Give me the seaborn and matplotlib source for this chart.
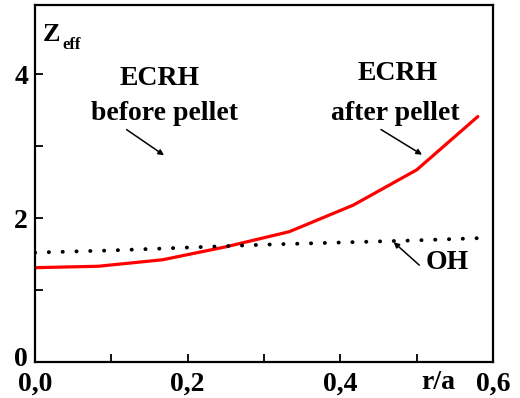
import matplotlib
matplotlib.use("Agg")
import matplotlib.pyplot as plt
import matplotlib.transforms as mtransforms
import seaborn as sns
import pandas as pd
from matplotlib.ticker import FixedLocator, FuncFormatter

# Zeff radial profiles
r_ecrh = [0.0, 0.083, 0.167, 0.25, 0.333, 0.417, 0.5, 0.58]
z_ecrh_after = [1.31, 1.33, 1.42, 1.60, 1.81, 2.18, 2.67, 3.41]

r_oh = [0.0, 0.1, 0.2, 0.3, 0.4, 0.5, 0.58]
z_oh = [1.52, 1.55, 1.59, 1.63, 1.66, 1.69, 1.72]

x_major = [0.0, 0.2, 0.4, 0.6]
x_minor = [0.1, 0.3, 0.5]
y_major = [0, 2, 4]
y_minor = [1, 3]

sns.set_theme(style="white")
plt.rcParams["font.family"] = ["Liberation Serif", "DejaVu Serif"]
plt.rcParams["font.weight"] = "bold"
plt.rcParams["text.color"] = "black"
plt.rcParams["xtick.color"] = "black"
plt.rcParams["ytick.color"] = "black"

fig = plt.figure(figsize=(5.2, 3.98), dpi=100)
ax = fig.add_axes([0.0673, 0.0905, 0.881, 0.897])

df_ecrh = pd.DataFrame({"r": r_ecrh, "z": z_ecrh_after})
df_oh = pd.DataFrame({"r": r_oh, "z": z_oh})

sns.lineplot(data=df_ecrh, x="r", y="z", ax=ax, color="#ff0000", lw=2.3)
sns.lineplot(data=df_oh, x="r", y="z", ax=ax, color="black", lw=2.8,
             linestyle=(0, (0.05, 3.5)), dash_capstyle="round")

ax.set_xlim(0, 0.6)
ax.set_ylim(0, 4.96)
ax.set_xlabel("")
ax.set_ylabel("")

ax.xaxis.set_major_locator(FixedLocator(x_major))
ax.xaxis.set_minor_locator(FixedLocator(x_minor))
ax.yaxis.set_major_locator(FixedLocator(y_major))
ax.yaxis.set_minor_locator(FixedLocator(y_minor))
ax.xaxis.set_major_formatter(FuncFormatter(lambda v, p: f"{v:.1f}".replace(".", ",")))
ax.yaxis.set_major_formatter(FuncFormatter(lambda v, p: f"{v:.0f}"))

ax.tick_params(which="both", direction="in", length=6, width=1.3, color="black",
               labelsize=20, labelcolor="black", bottom=True, left=True,
               top=False, right=False)
ax.tick_params(axis="x", pad=7)
ax.tick_params(axis="y", pad=5)
for lab in ax.get_xticklabels() + ax.get_yticklabels():
    lab.set_fontweight("bold")

# lift the y-axis "0" a little so it clears the "0,0" below it
zero_lab = ax.yaxis.get_major_ticks()[0].label1
zero_lab.set_transform(zero_lab.get_transform()
                       + mtransforms.ScaledTranslation(0, 4 / 72, fig.dpi_scale_trans))

for s in ax.spines.values():
    s.set_visible(True)
    s.set_color("black")
    s.set_linewidth(1.6)

tk = dict(fontsize=20, fontweight="bold", ha="center", va="center")
ax.text(0.0105, 4.55, "Z", fontsize=19, fontweight="bold", ha="left", va="center")
ax.text(0.0365, 4.41, "eff", fontsize=12, fontweight="bold", ha="left", va="center")
ax.text(0.163, 3.94, "ECRH", **tk)
ax.text(0.169, 3.45, "before pellet", **tk)
ax.text(0.475, 4.01, "ECRH", **tk)
ax.text(0.472, 3.45, "after pellet", **tk)
ax.text(0.511, 1.38, "OH", fontsize=20, fontweight="bold", ha="left", va="center")
ax.text(0.528, -0.29, "r/a", fontsize=20, fontweight="bold", ha="center", va="center",
        clip_on=False)

arrow = dict(arrowstyle="-|>", color="black", lw=1.1, mutation_scale=8)
ax.annotate("", xy=(0.172, 2.85), xytext=(0.117, 3.25), arrowprops=arrow)
ax.annotate("", xy=(0.510, 2.86), xytext=(0.450, 3.25), arrowprops=arrow)
ax.annotate("", xy=(0.467, 1.69), xytext=(0.506, 1.32), arrowprops=arrow)

fig.savefig("out.png", dpi=100)
